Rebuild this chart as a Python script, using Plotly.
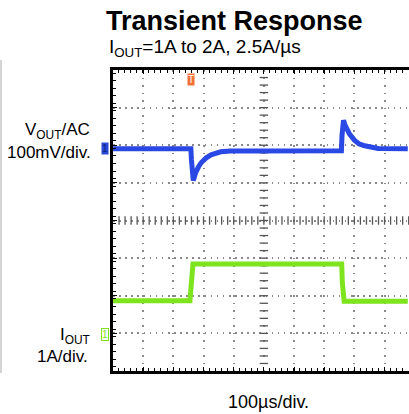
import plotly.graph_objects as go

# ---- data (time in µs, trigger at t=0) ----
vout_t = [-259, -1, 1, 2, 5, 7, 10, 15, 25, 33, 50, 66, 98, 131, 200, 300, 400, 498, 500, 503, 505, 510, 525, 541, 557, 575, 590, 620, 718]
vout_mv = [-1, -1, -30, -54, -75, -85, -78, -64, -48, -38, -25, -17, -9, -7, -7, -6, -6, -6, 35, 60, 75, 62, 38, 22, 12, 7, 4, 0, -1]

iout_t = [-259, -4, 0, 4, 6, 300, 499, 501, 504, 507, 718]
iout_a = [0.91, 0.91, 1.3, 1.75, 1.89, 1.89, 1.89, 1.4, 1.0, 0.90, 0.90]

VOUT_MV_PER_DIV = 100
IOUT_A_PER_DIV = 1
US_PER_DIV = 100
X_RANGE = [-259, 722]
Y_RANGE_MV = [-591.5, 208.5]
Y2_RANGE_A = [-0.957, 7.043]

BLUE = "#2a48e4"
GREEN = "#7ee41e"
GRID = "#8a8a8a"
FONT = "Liberation Sans, Arial, sans-serif"

L, T, B = 113, 70, 43
PW, PH = 409 - L, 414 - T - B

def px(xp):
    return (xp - L) / PW

def py(yp):
    return (414 - B - yp) / PH

fig = go.Figure()

# center crosshair minor ticks
cx = X_RANGE[0] + 5 * US_PER_DIV
cy = Y_RANGE_MV[0] + 4 * VOUT_MV_PER_DIV
ys = [Y_RANGE_MV[0] + k * VOUT_MV_PER_DIV / 5 for k in range(1, 40)]
xs = [X_RANGE[0] + k * US_PER_DIV / 5 for k in range(1, 50)]
fig.add_trace(go.Scatter(x=[cx] * len(ys), y=ys, mode="markers",
                         marker=dict(symbol="line-ew", size=6, line=dict(color="#555", width=1.3)),
                         hoverinfo="skip", showlegend=False))
fig.add_trace(go.Scatter(x=xs, y=[cy] * len(xs), mode="markers",
                         marker=dict(symbol="line-ns", size=6, line=dict(color="#555", width=1.3)),
                         hoverinfo="skip", showlegend=False))

fig.add_trace(go.Scatter(x=vout_t, y=vout_mv, mode="lines",
                         line=dict(color=BLUE, width=5), showlegend=False, yaxis="y"))
fig.add_trace(go.Scatter(x=iout_t, y=iout_a, mode="lines",
                         line=dict(color=GREEN, width=5), showlegend=False, yaxis="y2"))

fig.update_layout(
    width=409, height=414,
    margin=dict(l=L, r=0, t=T, b=B),
    paper_bgcolor="white", plot_bgcolor="white",
    xaxis=dict(range=X_RANGE, tick0=X_RANGE[0], dtick=US_PER_DIV,
               showgrid=True, gridcolor=GRID, gridwidth=1.6, griddash="1.6px,5.9px",
               showline=True, linecolor="black", linewidth=2.6, mirror="ticks",
               ticks="inside", ticklen=4, tickcolor="black", tickwidth=1.2,
               minor=dict(ticks="inside", ticklen=3, dtick=US_PER_DIV / 5, tickcolor="black", tickwidth=1),
               showticklabels=False, zeroline=False, fixedrange=True),
    yaxis=dict(range=Y_RANGE_MV, tick0=Y_RANGE_MV[0], dtick=VOUT_MV_PER_DIV,
               showgrid=True, gridcolor=GRID, gridwidth=1.6, griddash="1.6px,4.5px",
               showline=True, linecolor="black", linewidth=3,
               ticks="inside", ticklen=4, tickcolor="black", tickwidth=1.2,
               minor=dict(ticks="inside", ticklen=3, dtick=VOUT_MV_PER_DIV / 5, tickcolor="black", tickwidth=1),
               showticklabels=False, zeroline=False, fixedrange=True),
    yaxis2=dict(range=Y2_RANGE_A, overlaying="y", showgrid=False, showline=False,
                showticklabels=False, zeroline=False, ticks=""),
    font=dict(family=FONT, color="black"),
)

# faint left page edge
fig.add_shape(type="line", xref="paper", yref="paper", x0=px(1), x1=px(1), y0=py(60), y1=py(373),
              line=dict(color="#d4d4d4", width=2))

ann = []
ann.append(dict(text="<b>Transient Response</b>", xref="paper", yref="paper",
                x=px(234.5), y=py(21), xanchor="center", yanchor="middle",
                showarrow=False, font=dict(size=27, family=FONT)))
ann.append(dict(text="I<sub>OUT</sub>=1A to 2A, 2.5A/µs", xref="paper", yref="paper",
                x=px(107), y=py(48), xanchor="left", yanchor="middle",
                showarrow=False, font=dict(size=19, family=FONT)))
ann.append(dict(text="V<sub>OUT</sub>/AC", xref="paper", yref="paper",
                x=px(92), y=py(131), xanchor="right", yanchor="middle",
                showarrow=False, font=dict(size=17, family=FONT)))
ann.append(dict(text="100mV/div.", xref="paper", yref="paper",
                x=px(93), y=py(152), xanchor="right", yanchor="middle",
                showarrow=False, font=dict(size=17, family=FONT)))
ann.append(dict(text="I<sub>OUT</sub>", xref="paper", yref="paper",
                x=px(92), y=py(336), xanchor="right", yanchor="middle",
                showarrow=False, font=dict(size=17, family=FONT)))
ann.append(dict(text="1A/div.", xref="paper", yref="paper",
                x=px(90), y=py(356), xanchor="right", yanchor="middle",
                showarrow=False, font=dict(size=17, family=FONT)))
ann.append(dict(text="100µs/div.", xref="paper", yref="paper",
                x=px(268), y=py(402), xanchor="center", yanchor="middle",
                showarrow=False, font=dict(size=18, family=FONT)))
# trigger marker
ann.append(dict(text="T", x=0, xref="x", yref="paper", y=1, yanchor="top", yshift=-3,
                showarrow=False, bgcolor="#f07038", borderpad=0,
                font=dict(size=10, color="white", family=FONT)))
# channel markers
ann.append(dict(text="1", xref="paper", x=px(104.5), y=0, yref="y",
                xanchor="center", yanchor="middle", showarrow=False,
                bgcolor="#2a48d8", borderpad=0, font=dict(size=10, color="#14207a", family=FONT)))
ann.append(dict(text="1", xref="paper", x=px(105), y=0, yref="y2",
                xanchor="center", yanchor="middle", showarrow=False,
                bgcolor="white", bordercolor=GREEN, borderwidth=1, borderpad=0,
                font=dict(size=10, color=GREEN, family=FONT)))
fig.update_layout(annotations=ann)

fig.write_html("out.html")
